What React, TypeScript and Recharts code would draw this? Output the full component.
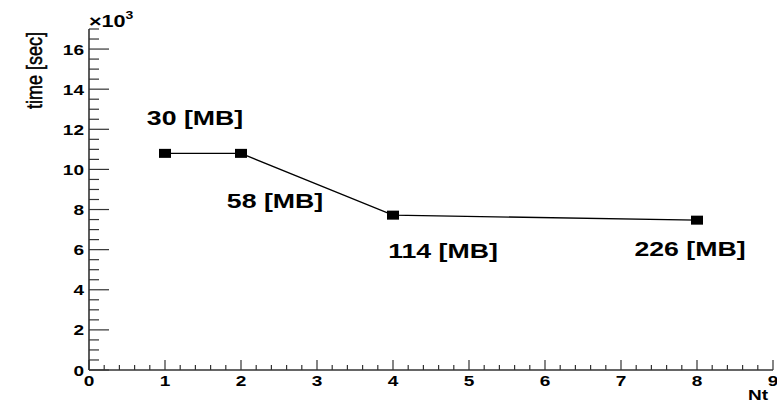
import React from 'react';
import { LineChart, Line, XAxis, YAxis, LabelList } from 'recharts';

// Nt vs. elapsed time, memory per point
const ntValues = [1, 2, 4, 8];
const timeSec = [10800, 10800, 7720, 7470];
const memLabels = ['30 [MB]', '58 [MB]', '114 [MB]', '226 [MB]'];

const xMajorTicks = [0, 1, 2, 3, 4, 5, 6, 7, 8, 9];
const yMajorTicks = [0, 2000, 4000, 6000, 8000, 10000, 12000, 14000, 16000];

const data = ntValues.map((n, i) => ({ nt: n, time: timeSec[i], mem: memLabels[i] }));

// minor ticks: 5 per unit on x, 4 per major step on y
const xTicks = Array.from({ length: 46 }, (_, i) => i / 5);
const yTicks = Array.from({ length: 35 }, (_, i) => i * 500);

// where each memory label sits relative to its point (layout only)
const labelOffsets = [
  { dx: 30, dy: -28 },
  { dx: 34, dy: 55 },
  { dx: 50, dy: 43 },
  { dx: -7, dy: 36 },
];

const W = 777;
const H = 403;
const SX = 1.27; // the original canvas is stretched sideways
const FONT = '"Liberation Sans", Arial, Helvetica, sans-serif';
const AX = '#333';

const isMajorX = (v: number) => xMajorTicks.some((t) => Math.abs(t - v) < 1e-6);
const isMajorY = (v: number) => yMajorTicks.includes(v);

const WideText = ({ x, y, anchor = 'middle', size = 15, weight = 'bold', children }: any) => (
  <g transform={`translate(${x},${y}) scale(${SX},1)`}>
    <text x={0} y={0} textAnchor={anchor} fontSize={size} fontWeight={weight} fontFamily={FONT} fill="#000">
      {children}
    </text>
  </g>
);

const BottomTick = (props: any) => {
  const { x, y, payload } = props;
  const major = isMajorX(payload.value);
  return (
    <g>
      <line x1={x} y1={y} x2={x} y2={y - (major ? 10 : 5)} stroke={AX} strokeWidth={1.2} />
      {major && <WideText x={x} y={y + 16}>{Math.round(payload.value)}</WideText>}
    </g>
  );
};

const TopTick = (props: any) => {
  const { x, y, payload } = props;
  const major = isMajorX(payload.value);
  return <line x1={x} y1={y} x2={x} y2={y + (major ? 10 : 5)} stroke={AX} strokeWidth={1.2} />;
};

const LeftTick = (props: any) => {
  const { x, y, payload } = props;
  const major = isMajorY(payload.value);
  return (
    <g>
      <line x1={x} y1={y} x2={x + (major ? 20 : 10)} y2={y} stroke={AX} strokeWidth={1.2} />
      {major && <WideText x={x - 5} y={y + 5.5} anchor="end">{payload.value / 1000}</WideText>}
    </g>
  );
};

const RightTick = (props: any) => {
  const { x, y, payload } = props;
  const major = isMajorY(payload.value);
  return <line x1={x} y1={y} x2={x - (major ? 20 : 10)} y2={y} stroke={AX} strokeWidth={1.2} />;
};

const SquareDot = (props: any) => {
  const { cx, cy, index } = props;
  return <rect key={`dot-${index}`} x={cx - 6} y={cy - 4.5} width={12} height={9} fill="#000" />;
};

const MemLabel = (props: any) => {
  const { x, y, index, value } = props;
  const off = labelOffsets[index] || { dx: 0, dy: 0 };
  return (
    <WideText x={x + off.dx} y={y + off.dy} size={21}>
      {value}
    </WideText>
  );
};

export default function App() {
  return (
    <div style={{ position: 'absolute', left: 0, top: 0, width: W, height: H, background: '#fff' }}>
      <LineChart width={W} height={H} data={data} margin={{ top: 29, right: 4, bottom: 0, left: 0 }}>
        <XAxis
          xAxisId="b"
          dataKey="nt"
          type="number"
          domain={[0, 9]}
          allowDataOverflow
          ticks={xTicks}
          interval={0}
          tickSize={0}
          tickMargin={0}
          tickLine={false}
          tick={BottomTick}
          axisLine={{ stroke: AX, strokeWidth: 1.6 }}
          height={33}
        />
        <XAxis
          xAxisId="t"
          orientation="top"
          dataKey="nt"
          type="number"
          domain={[0, 9]}
          allowDataOverflow
          ticks={xTicks}
          interval={0}
          tickSize={0}
          tickMargin={0}
          tickLine={false}
          tick={TopTick}
          axisLine={{ stroke: AX, strokeWidth: 1.6 }}
          height={0}
        />
        <YAxis
          yAxisId="l"
          type="number"
          domain={[0, 17000]}
          allowDataOverflow
          ticks={yTicks}
          interval={0}
          tickSize={0}
          tickMargin={0}
          tickLine={false}
          tick={LeftTick}
          axisLine={{ stroke: AX, strokeWidth: 1.6 }}
          width={89}
        />
        <YAxis
          yAxisId="r"
          orientation="right"
          type="number"
          domain={[0, 17000]}
          allowDataOverflow
          ticks={yTicks}
          interval={0}
          tickSize={0}
          tickMargin={0}
          tickLine={false}
          tick={RightTick}
          axisLine={{ stroke: AX, strokeWidth: 1.6 }}
          width={0}
        />
        <Line
          xAxisId="b"
          yAxisId="l"
          type="linear"
          dataKey="time"
          stroke="#000"
          strokeWidth={1.4}
          dot={SquareDot}
          activeDot={false}
          isAnimationActive={false}
        >
          <LabelList dataKey="mem" content={MemLabel} />
        </Line>
      </LineChart>
      <svg
        width={W}
        height={H}
        style={{ position: 'absolute', left: 0, top: 0, pointerEvents: 'none' }}
      >
        <g transform="translate(42,32) scale(1.27,1) rotate(-90)">
          <text x={0} y={0} textAnchor="end" fontSize={18} fontFamily={FONT} fill="#000" stroke="#000" strokeWidth={0.4}>
            time [sec]
          </text>
        </g>
        <WideText x={89} y={27} anchor="start" size={17}>
          ×10<tspan dy={-8} fontSize={11}>3</tspan>
        </WideText>
        <WideText x={768} y={400} anchor="end" size={15}>
          Nt
        </WideText>
      </svg>
    </div>
  );
}
